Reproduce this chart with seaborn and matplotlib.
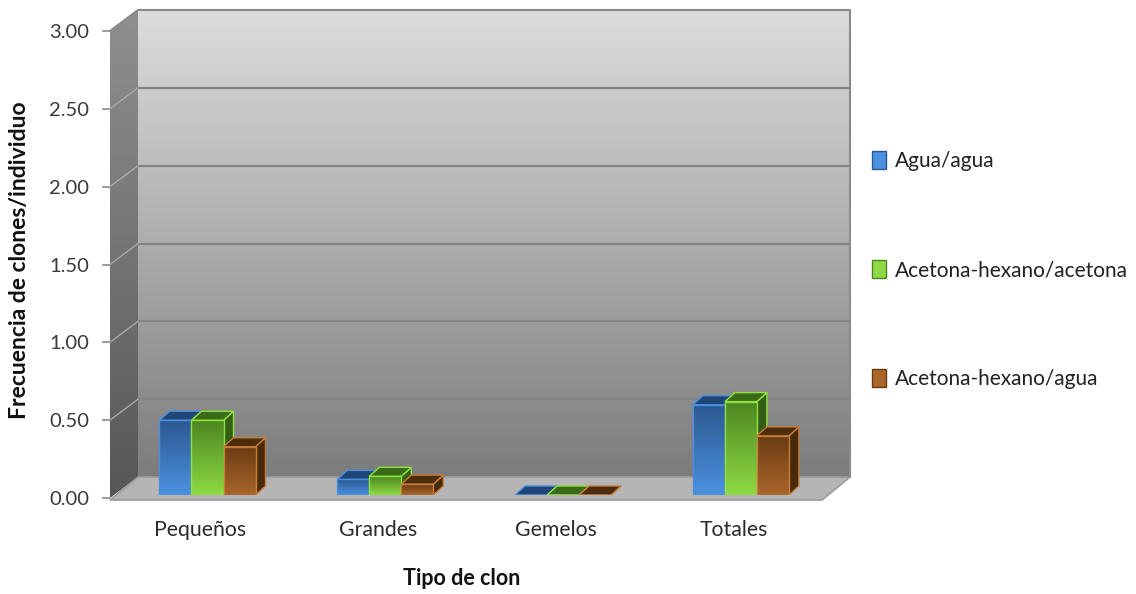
import numpy as np
import pandas as pd
import matplotlib
matplotlib.use("Agg")
import matplotlib.pyplot as plt
from matplotlib.patches import Polygon, Patch
from matplotlib.colors import LinearSegmentedColormap, to_rgb
import seaborn as sns

# ---- data ----
categorias = ["Pequeños", "Grandes", "Gemelos", "Totales"]
series = ["Agua/agua", "Acetona-hexano/acetona", "Acetona-hexano/agua"]
agua_agua = [0.48, 0.10, 0.00, 0.58]
acetona_acetona = [0.48, 0.12, 0.00, 0.60]
acetona_agua = [0.31, 0.07, 0.00, 0.38]
ticks_y = [0.0, 0.5, 1.0, 1.5, 2.0, 2.5, 3.0]

df = pd.DataFrame({
    "Tipo de clon": categorias * len(series),
    "Serie": np.repeat(series, len(categorias)),
    "Frecuencia": agua_agua + acetona_acetona + acetona_agua,
})

# face colours per series: (front top, front bottom, top face, side face, edge)
estilos = {
    "Agua/agua": ("#2c5890", "#4c91e0", "#1f4676", "#1c3f6a", "#4a8fe0"),
    "Acetona-hexano/acetona": ("#4c8620", "#8fda44", "#3b6a19", "#345e17", "#8ee23f"),
    "Acetona-hexano/agua": ("#693b12", "#aa662b", "#4d2c0e", "#47290c", "#c77d38"),
}
paleta = {s: estilos[s][1] for s in series}

sns.set_theme(style="white")
plt.rcParams["font.family"] = ["Lato", "DejaVu Sans"]

W, H = 1136, 594
fig = plt.figure(figsize=(W / 100, H / 100), dpi=100)

# geometry of the plot box in pixels
FX0, FX1 = 110, 822          # front plane left/right
FY0, FY1 = 498, 31           # pixel y of value 0 and value 3
DX, DY = 28, -21             # depth of the box
CAT0, CAT_STEP = 200, 177.8  # first category centre and spacing
YMAX = ticks_y[-1]


def py(v):
    return FY0 + (FY1 - FY0) * v / YMAX


def rect(x0, yt, x1, yb):
    return [x0 / W, 1 - yb / H, (x1 - x0) / W, (yb - yt) / H]


# ---- background box (walls and floor) ----
bg = fig.add_axes([0, 0, 1, 1], zorder=0)
bg.set_xlim(0, W)
bg.set_ylim(H, 0)
bg.axis("off")

grad = np.linspace(0, 1, 256).reshape(-1, 1)
back_cmap = LinearSegmentedColormap.from_list("back", ["#dcdcdc", "#adadad", "#7c7c7c"])
bg.imshow(grad, extent=(FX0 + DX, FX1 + DX, FY0 + DY, FY1 + DY), cmap=back_cmap,
          aspect="auto", origin="upper", zorder=1)
left_cmap = LinearSegmentedColormap.from_list("left", ["#8f8f8f", "#747474", "#565656"])
left_poly = Polygon([(FX0, FY1), (FX0 + DX, FY1 + DY), (FX0 + DX, FY0 + DY), (FX0, FY0)],
                    closed=True, facecolor="none", edgecolor="none")
bg.add_patch(left_poly)
im = bg.imshow(grad, extent=(FX0, FX0 + DX, FY0, FY1 + DY), cmap=left_cmap,
               aspect="auto", origin="upper", zorder=1)
im.set_clip_path(left_poly)

floor = Polygon([(FX0, FY0 + 2), (FX0 + DX, FY0 + DY), (FX1 + DX, FY0 + DY), (FX1, FY0 + 2)],
                closed=True, facecolor="#b5b5b5", edgecolor="#9a9a9a", lw=1.2, zorder=2)
bg.add_patch(floor)

for v in ticks_y[1:-1]:
    y = py(v)
    bg.plot([FX0 + DX, FX1 + DX], [y + DY, y + DY], color="#838383", lw=1.6, zorder=2)
    bg.plot([FX0, FX0 + DX], [y, y + DY], color="#a9a9a9", lw=1.0, zorder=2)
bg.plot([FX0, FX0 + DX, FX1 + DX, FX1 + DX], [FY1, FY1 + DY, FY1 + DY, FY0 + DY],
        color="#8a8a8a", lw=1.5, zorder=2)

# ---- front plane axes: ticks and labels ----
xlim = ((FX0 - CAT0) / CAT_STEP, (FX1 - CAT0) / CAT_STEP)
ax = fig.add_axes(rect(FX0, FY1, FX1, FY0), zorder=2)
ax.patch.set_alpha(0)
ax.set_xlim(*xlim)
ax.set_ylim(0, YMAX)
for s in ax.spines.values():
    s.set_visible(False)
ax.set_yticks(ticks_y)
ax.set_yticklabels([f"{t:.2f}" for t in ticks_y])
ax.set_xticks(range(len(categorias)))
ax.set_xticklabels(categorias)
ax.tick_params(axis="y", length=6, width=1.2, color="#8a8a8a", pad=9,
               labelsize=14.5, labelcolor="#3a3a3a", left=True)
ax.tick_params(axis="x", length=0, pad=16, labelsize=15.3, labelcolor="#2a2a2a")
ax.set_xlabel("Tipo de clon", fontsize=15.5, fontweight="bold", color="#111111")
ax.set_ylabel("Frecuencia de clones/individuo", fontsize=16.5, fontweight="bold", color="#111111")
ax.xaxis.set_label_coords(0.494, -0.15)
ax.yaxis.set_label_coords(-0.113, 0.51)
ax.grid(False)

# ---- bars, slightly recessed into the box ----
axb = fig.add_axes(rect(FX0 + 7.5, FY1 - 3, FX1 + 7.5, FY0 - 3), zorder=3)
axb.patch.set_alpha(0)
sns.barplot(data=df, x="Tipo de clon", y="Frecuencia", hue="Serie", hue_order=series,
            order=categorias, palette=paleta, width=0.54, saturation=1,
            legend=False, ax=axb)
axb.set_xlim(*xlim)
axb.set_ylim(0, YMAX)
axb.axis("off")

ddx = 10 / CAT_STEP                 # bar depth in data units
ddy = 9 / ((FY0 - FY1) / YMAX)

patches = sorted(axb.patches, key=lambda p: p.get_x())
for i, p in enumerate(patches):
    fc = to_rgb(p.get_facecolor())
    serie = min(series, key=lambda s: sum((a - b) ** 2 for a, b in zip(to_rgb(paleta[s]), fc)))
    c_top, c_bot, c_lid, c_side, c_edge = estilos[serie]
    x0, w, h = p.get_x(), p.get_width(), p.get_height()
    z = 10 + 4 * i
    side = Polygon([(x0 + w, 0), (x0 + w + ddx, ddy), (x0 + w + ddx, h + ddy), (x0 + w, h)],
                   closed=True, facecolor=c_side, edgecolor=c_edge, lw=1.0, zorder=z)
    lid = Polygon([(x0, h), (x0 + ddx, h + ddy), (x0 + w + ddx, h + ddy), (x0 + w, h)],
                  closed=True, facecolor=c_lid, edgecolor=c_edge, lw=1.0, zorder=z + 1)
    axb.add_patch(side)
    axb.add_patch(lid)
    p.set_facecolor("none")
    p.set_edgecolor(c_edge)
    p.set_linewidth(1.0)
    p.set_zorder(z + 3)
    if h > 0:
        cm = LinearSegmentedColormap.from_list(f"b{i}", [c_top, c_bot])
        img = axb.imshow(grad, extent=(x0, x0 + w, 0, h), cmap=cm, aspect="auto",
                         origin="upper", zorder=z + 2)
        img.set_clip_path(p)
axb.set_xlim(*xlim)
axb.set_ylim(0, YMAX)

# ---- legend ----
handles = [Patch(facecolor=estilos[s][1], edgecolor=estilos[s][0], lw=1.0) for s in series]
fig.legend(handles, series, loc="center left", bbox_to_anchor=(853 / W, 1 - 270 / H),
           frameon=False, fontsize=15.0, labelspacing=4.25, handlelength=0.7,
           handleheight=0.95, handletextpad=0.4, labelcolor="#222222")

fig.savefig("out.png", dpi=100)
